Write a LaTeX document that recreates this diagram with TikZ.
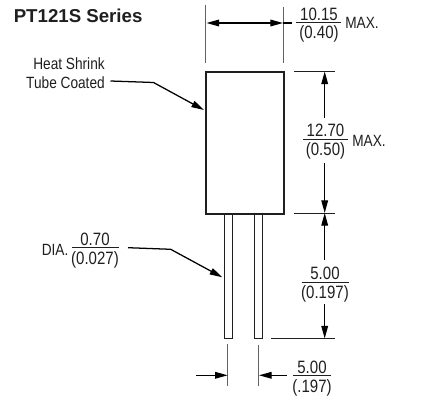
\documentclass[tikz,border=0pt]{standalone}
\usepackage{fontspec}
\setmainfont{Liberation Sans}
\newfontfamily\narrowf[FakeStretch=0.84]{Liberation Sans}
\newfontfamily\numf[FakeStretch=0.84]{Liberation Sans}
\usetikzlibrary{arrows.meta}
\definecolor{ink}{gray}{0.12}
\tikzset{
  px/.style={x=0.75pt,y=-0.75pt},
  partline/.style={draw=ink,line width=1.5pt,inner sep=0pt},
  pinline/.style={draw=ink,line width=0.9pt,inner sep=0pt},
  thin line/.style={draw=ink,line width=0.7pt},
  extline/.style={draw=ink!70,line width=0.75pt},
  dimline/.style={draw=black,line width=0.95pt},
  tip/.style={-{Triangle[length=9.5pt,width=5pt]}},
  label/.style={font=\narrowf\fontsize{12.2}{14}\selectfont,text=ink,inner sep=0pt,anchor=center},
  numlabel/.style={font=\numf\fontsize{13.4}{15}\selectfont,text=ink,inner sep=0pt,anchor=center},
  title/.style={font=\bfseries\fontsize{14}{16}\selectfont,text=ink,inner sep=0pt},
  rulebar/.style={draw=ink,line width=0.75pt}
}
\begin{document}
\begin{tikzpicture}[px]
\useasboundingbox (0,0) rectangle (437,396);
\fill[white] (0,0) rectangle (437,396);
\node[title,anchor=west] (ttl) at (13.5,16) {PT121S Series};

% body and pins
\node[partline,minimum width=58.5pt,minimum height=106.5pt,anchor=north west] (body) at (205.5,71.5) {};
\node[pinline,minimum width=5.8pt,minimum height=93pt,anchor=north west] (pinA) at (224,214) {};
\node[pinline,minimum width=5.8pt,minimum height=93pt,anchor=north west] (pinB) at (254.3,214) {};

% width dimension
\coordinate (wA1) at (205.7,5); \coordinate (wA2) at (205.7,63);
\coordinate (wB1) at (283.7,7); \coordinate (wB2) at (283.7,63);
\draw[extline] (wA1) -- (wA2);
\draw[extline] (wB1) -- (wB2);
\coordinate (wL) at (206.5,23); \coordinate (wR) at (283,23); \coordinate (wE) at (292,23); \coordinate (wM) at (245,23);
\draw[dimline,tip] (wM) -- (wL);
\draw[dimline,tip] (wM) -- (wR);
\draw[dimline] (wR) -- (wE);
\coordinate (r1a) at (296,23); \coordinate (r1b) at (341,23);
\draw[rulebar] (r1a) -- (r1b);
\node[numlabel] (t1a) at (319,14) {10.15};
\node[numlabel] (t1b) at (319,33.5) {(0.40)};
\node[label,anchor=west] (t1c) at (345,23) {MAX.};

% height dimension
\coordinate (h1a) at (294.5,71.5); \coordinate (h1b) at (335.5,71.5);
\coordinate (h2a) at (294.5,213); \coordinate (h2b) at (335.5,213);
\coordinate (h3a) at (271.5,338.5); \coordinate (h3b) at (335.5,338.5);
\draw[thin line] (h1a) -- (h1b);
\draw[thin line] (h2a) -- (h2b);
\draw[thin line] (h3a) -- (h3b);
\coordinate (c1) at (324.7,71.5); \coordinate (c2) at (324.7,213); \coordinate (c3) at (324.7,338.5);
\coordinate (u1) at (324.7,118.5); \coordinate (u2) at (324.7,163);
\coordinate (u3) at (324.7,260); \coordinate (u4) at (324.7,304);
\draw[dimline,tip] (u1) -- (c1);
\draw[dimline,tip] (u2) -- (c2);
\draw[dimline,tip] (u3) -- (c2);
\draw[dimline,tip] (u4) -- (c3);
\coordinate (r2a) at (303,140); \coordinate (r2b) at (348,140);
\draw[rulebar] (r2a) -- (r2b);
\node[numlabel] (t2a) at (325.5,130.5) {12.70};
\node[numlabel] (t2b) at (325.5,151) {(0.50)};
\node[label,anchor=west] (t2c) at (352,140.5) {MAX.};
\coordinate (r3a) at (301.7,282.7); \coordinate (r3b) at (349,282.7);
\draw[rulebar] (r3a) -- (r3b);
\node[numlabel] (t3a) at (325,273.5) {5.00};
\node[numlabel] (t3b) at (325,294) {(0.197)};

% pin pitch
\coordinate (p1a) at (227.7,344); \coordinate (p1b) at (227.7,385.7);
\coordinate (p2a) at (259,345); \coordinate (p2b) at (259,386.5);
\draw[extline] (p1a) -- (p1b);
\draw[extline] (p2a) -- (p2b);
\coordinate (q1) at (196.5,375.3); \coordinate (q2) at (227.7,375.3);
\coordinate (q3) at (287,375.3); \coordinate (q4) at (259,375.3);
\draw[dimline,tip] (q1) -- (q2);
\draw[dimline,tip] (q3) -- (q4);
\coordinate (r4a) at (293,375.3); \coordinate (r4b) at (331,375.3);
\draw[rulebar] (r4a) -- (r4b);
\node[numlabel] (t4a) at (312,367) {5.00};
\node[numlabel] (t4b) at (312,388) {(.197)};

% leaders
\node[label,anchor=east] (h1) at (105,63.5) {Heat Shrink};
\node[label,anchor=east] (h2) at (105,83) {Tube Coated};
\coordinate (l1a) at (110.5,81); \coordinate (l1b) at (153.5,82.5); \coordinate (l1c) at (204,110);
\draw[dimline,tip] (l1a) -- (l1b) -- (l1c);
\node[label,anchor=west] (d1) at (41.5,250) {DIA.};
\coordinate (r5a) at (72,248); \coordinate (r5b) at (119.5,248);
\draw[rulebar] (r5a) -- (r5b);
\node[numlabel] (d2) at (95,239) {0.70};
\node[numlabel] (d3) at (95,259.5) {(0.027)};
\coordinate (l2a) at (128,247.7); \coordinate (l2b) at (170.7,249.3); \coordinate (l2c) at (222.3,277.3);
\draw[dimline,tip] (l2a) -- (l2b) -- (l2c);
\end{tikzpicture}
\end{document}
